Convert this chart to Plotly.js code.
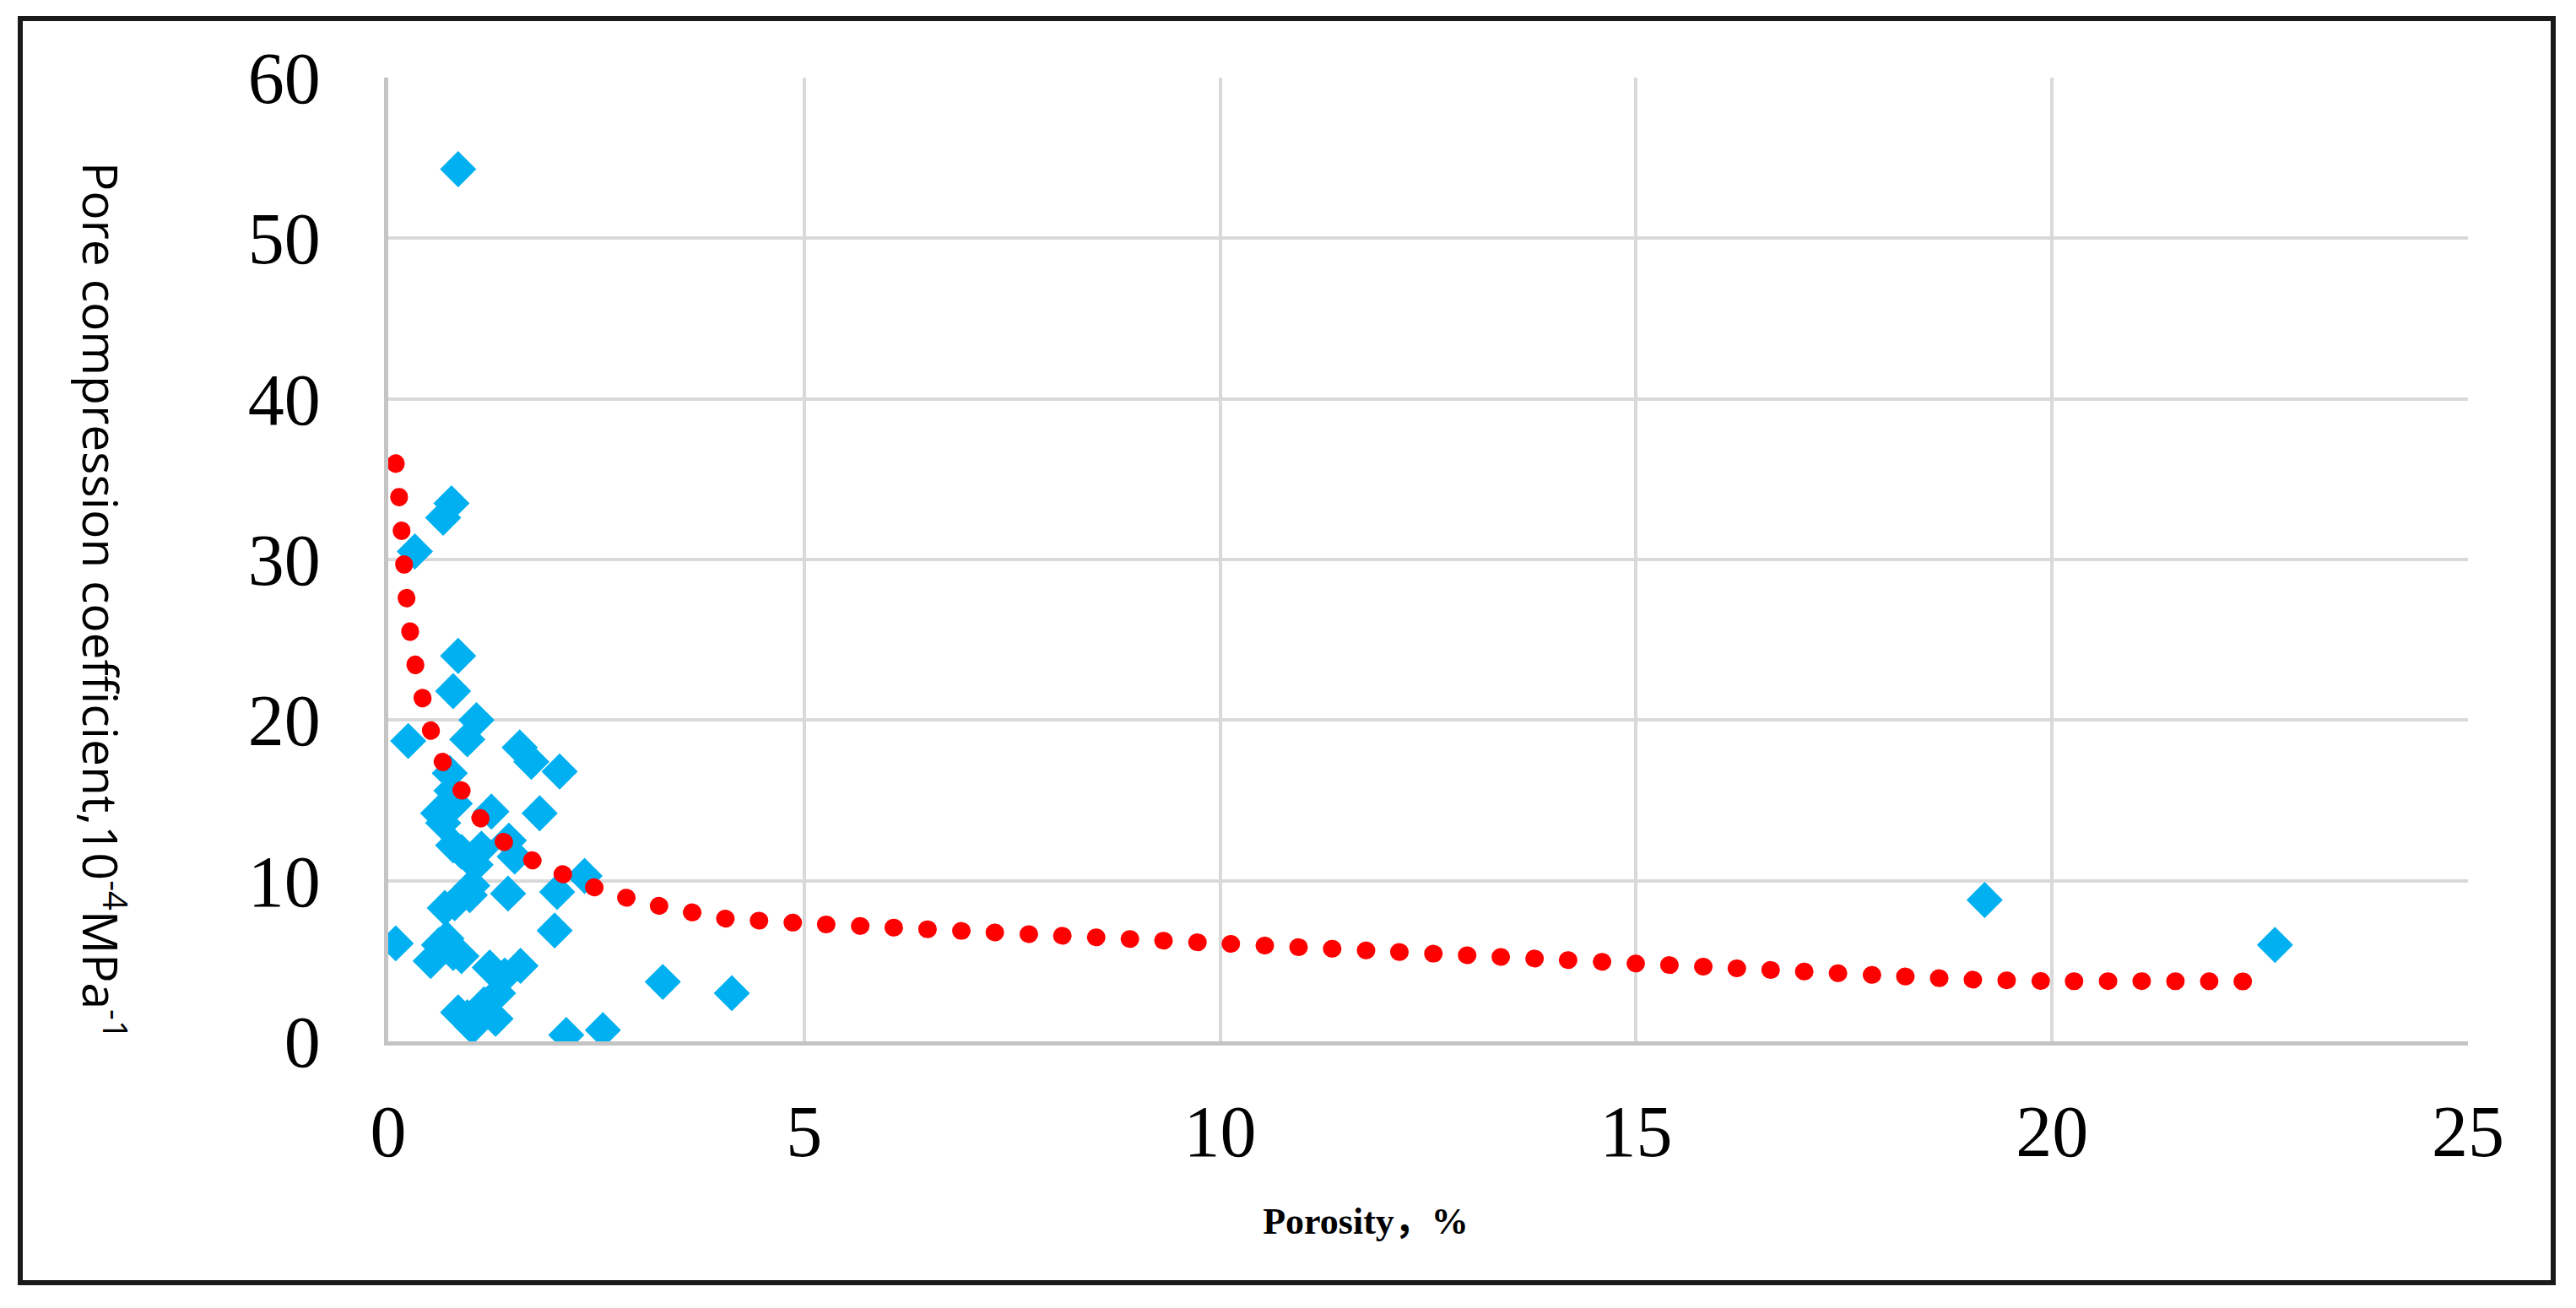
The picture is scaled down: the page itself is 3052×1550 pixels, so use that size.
<!DOCTYPE html>
<html>
<head>
<meta charset="utf-8">
<script src="https://cdn.plot.ly/plotly-3.0.1.min.js"></script>
<style>
  html, body { margin: 0; padding: 0; background: #ffffff; }
  #chart { width: 3052px; height: 1550px; }
  .scatterlayer .js-line { stroke-linecap: round !important; }
</style>
</head>
<body>
<div id="chart"></div>
<script>
// Measured samples: porosity (%) and pore compression coefficient (10^-4 MPa^-1)
const porosity = [0.84, 0.66, 0.76, 0.32, 0.84, 0.78, 1.06, 0.95, 0.24, 1.58,
                  1.72, 2.06, 0.74, 0.76, 0.80, 0.60, 0.66, 1.24, 1.82, 0.78,
                  0.88, 1.05, 1.12, 1.45, 1.52, 2.36, 1.01, 0.98, 1.44, 2.03,
                  0.68, 0.80, 2.00, 0.09, 0.70, 0.61, 0.78, 0.51, 0.88, 1.22,
                  1.59, 1.40, 1.32, 1.15, 0.84, 1.01, 1.29, 0.95, 3.30, 4.13,
                  2.14, 2.58, 19.19, 22.68];
const compressCoef = [54.3, 32.6, 33.5, 30.5, 24.0, 21.8, 20.0, 18.8, 18.7, 18.3,
                      17.4, 16.8, 16.7, 15.6, 14.8, 14.2, 13.6, 14.3, 14.2, 12.2,
                      11.8, 11.0, 12.0, 12.5, 11.5, 10.3, 9.7, 9.1, 9.2, 9.3,
                      8.3, 8.6, 6.9, 6.1, 6.4, 6.0, 5.5, 5.0, 5.3, 4.6,
                      4.7, 4.1, 3.0, 2.3, 1.8, 0.9, 1.4, 1.5, 3.7, 3.0,
                      0.4, 0.7, 8.8, 6.0];

// Trend line (dotted red)
const trendX = [0.09, 0.13, 0.16, 0.19, 0.22, 0.25, 0.32, 0.42, 0.51, 0.61,
                0.99, 1.24, 1.79, 2.01, 2.57, 2.96, 3.29, 3.68, 4.11, 4.53,
                5, 6, 7, 8, 9, 10, 11, 12, 13, 14, 15, 16, 17, 18, 19, 20, 21, 22.39];
const trendY = [36.0, 33.9, 31.8, 29.7, 27.6, 26.0, 23.6, 21.2, 19.4, 17.8,
                14.8, 13.0, 11.1, 10.6, 9.4, 8.8, 8.4, 8.0, 7.6, 7.5,
                7.35, 7.1, 6.85, 6.6, 6.35, 6.1, 5.85, 5.6, 5.35, 5.1, 4.85, 4.6, 4.35, 4.1, 3.85, 3.75, 3.75, 3.73];

const xTicks = [0, 5, 10, 15, 20, 25];
const yTicks = [0, 10, 20, 30, 40, 50, 60];

const xTitle = 'Porosity，%';
const yTitle = 'Pore compression coefficient,10<sup>-4</sup>MPa<sup>-1</sup>';

const W = 3052, H = 1550;
const L = 460, R = 128, T = 92, B = 316;

const traces = [
  {
    x: porosity, y: compressCoef, type: 'scatter', mode: 'markers',
    marker: { symbol: 'diamond', size: 33, color: '#00b0f0', line: { width: 0 } },
    showlegend: false, hoverinfo: 'x+y'
  },
  {
    x: trendX, y: trendY, type: 'scatter', mode: 'lines',
    line: { color: '#ff0000', width: 21, dash: '1px,39px', shape: 'spline', smoothing: 0.6 },
    showlegend: false, hoverinfo: 'skip'
  }
];

const tickFont = { family: '"Liberation Serif", "Times New Roman", serif', size: 86, color: '#000000' };

const layout = {
  width: W, height: H,
  margin: { l: L, r: R, t: T, b: B, pad: 0 },
  paper_bgcolor: '#ffffff', plot_bgcolor: '#ffffff',
  showlegend: false,
  xaxis: {
    range: [0, 25], tickvals: xTicks, ticktext: xTicks.map(String),
    showgrid: true, gridcolor: '#d9d9d9', gridwidth: 4,
    showline: true, linecolor: '#c4c4c4', linewidth: 5,
    zeroline: false, ticks: '', tickfont: tickFont, ticklabelstandoff: 28,
    title: { text: xTitle, font: { family: '"Liberation Serif", "Noto Sans CJK SC", serif', size: 44, color: '#000000', weight: 'bold' }, standoff: 0 },
    automargin: false
  },
  yaxis: {
    range: [0, 60], tickvals: yTicks, ticktext: yTicks.map(String),
    showgrid: true, gridcolor: '#d9d9d9', gridwidth: 4,
    showline: true, linecolor: '#c4c4c4', linewidth: 5,
    zeroline: false, ticks: '', tickfont: tickFont, ticklabelstandoff: 58,
    automargin: false
  },
  annotations: [
    {
      text: yTitle, xref: 'paper', yref: 'paper',
      x: (123 - L) / (W - L - R), y: (1234 - 712) / (H - T - B),
      xanchor: 'center', yanchor: 'middle', textangle: 90, showarrow: false,
      font: { family: '"Open Sans", "Noto Sans", sans-serif', size: 57, color: '#000000' }
    }
  ],
  shapes: [
    {
      type: 'rect', xref: 'paper', yref: 'paper', layer: 'below',
      x0: (24 - L) / (W - L - R), x1: (3025 - L) / (W - L - R),
      y0: (1234 - 1520) / (H - T - B), y1: (1234 - 22) / (H - T - B),
      line: { color: '#1a1a1a', width: 6 }, fillcolor: 'rgba(0,0,0,0)'
    }
  ]
};

Plotly.newPlot('chart', traces, layout, { staticPlot: true, displayModeBar: false }).then(function () {
  // place x-axis title where the reference has it
  const t = document.querySelector('.g-xtitle text');
  if (t) { t.setAttribute('x', 1618); t.setAttribute('y', 1462); }
});
</script>
</body>
</html>
